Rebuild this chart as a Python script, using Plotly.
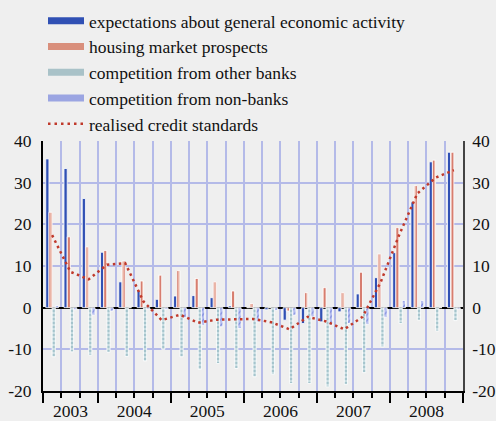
import numpy as np
import plotly.graph_objects as go

quarters = ["2003Q2", "2003Q3", "2003Q4",
            "2004Q1", "2004Q2", "2004Q3", "2004Q4",
            "2005Q1", "2005Q2", "2005Q3", "2005Q4",
            "2006Q1", "2006Q2", "2006Q3", "2006Q4",
            "2007Q1", "2007Q2", "2007Q3", "2007Q4",
            "2008Q1", "2008Q2", "2008Q3", "2008Q4"]
years = ["2003", "2004", "2005", "2006", "2007", "2008"]

expectations = [35.7, 33.4, 26.2, 13.3, 6.2, 4.2, 2.0, 2.8, 2.9, 2.4, 0.4, 0.0,
                -0.5, -3.0, -3.8, -3.4, -1.0, 3.3, 7.2, 13.2, 25.4, 35.0, 37.3]
housing = [22.9, 17.0, 14.6, 13.7, 11.2, 6.4, 7.8, 8.9, 7.0, 6.2, 4.0, 1.0,
           0.0, -0.8, 3.6, 4.8, 3.6, 8.5, 12.9, 19.2, 29.3, 35.4, 37.3]
other_banks = [-11.8, -10.6, -11.4, -10.7, -11.7, -12.8, -10.0, -11.8, -14.8, -13.4, -14.6, -16.6,
               -16.0, -18.2, -18.2, -19.0, -18.4, -15.6, -9.4, -3.8, -3.0, -5.6, -3.1]
non_banks = [0.5, -0.5, -1.8, -0.8, 0.0, -0.3, -0.4, -2.4, -4.2, -4.6, -5.0, -3.4,
             -0.6, -1.8, -2.2, -4.2, -3.8, -4.0, -2.3, 1.7, 1.7, 0.0, -0.3]
credit_standards = [17.4, 8.6, 6.8, 10.3, 10.7, 1.5, -3.0, -1.7, -3.6, -2.9, -2.8, -2.7,
                    -3.5, -5.2, -2.2, -3.3, -5.2, -2.2, 6.2, 17.4, 27.4, 31.2, 33.0]
y_ticks = [-20, -10, 0, 10, 20, 30, 40]
y_tick_labels = ["-20", "-10", "0", "10", "20", "30", "40"]

n = len(quarters)
x = np.arange(n) + 0.5
q_year = [q[:4] for q in quarters]
year_centers = [np.mean([i for i, y in enumerate(q_year) if y == yr]) + 0.5 for yr in years]
year_bounds = [min(i for i, y in enumerate(q_year) if y == yr) for yr in years] + [n]
all_bounds = list(range(n + 1))

FONT = "Liberation Serif"
BG = "#efefef"
GRID = "#b4bae8"
BLUE = "#3050b4"
RED = "#c0392b"
TXT = "#111111"
TICK_SIZE = 17.5

fig = go.Figure()

fig.add_trace(go.Bar(x=x, y=expectations, name="expectations about general economic activity",
                     marker=dict(color=BLUE, line=dict(color="white", width=0.8)),
                     showlegend=False))
fig.add_trace(go.Bar(x=x, y=housing, name="housing market prospects",
                     marker=dict(color="#e6ab9c",
                                 pattern=dict(shape="|", fgcolor=RED, bgcolor="#eab4a6", size=4, solidity=0.45),
                                 line=dict(color="white", width=0.8)),
                     showlegend=False))
fig.add_trace(go.Bar(x=x, y=other_banks, name="competition from other banks",
                     marker=dict(color="#c9dde2",
                                 pattern=dict(shape="-", fgcolor="#4f8c98", bgcolor="#c9dde2", size=4, solidity=0.3),
                                 line=dict(color="white", width=0.8)),
                     showlegend=False))
fig.add_trace(go.Bar(x=x, y=non_banks, name="competition from non-banks",
                     marker=dict(color="#b8c0f0",
                                 pattern=dict(shape="/", fgcolor="#4455cc", bgcolor="#b8c0f0", size=4, solidity=0.3),
                                 line=dict(color="white", width=0.8)),
                     showlegend=False))
fig.add_trace(go.Scatter(x=x, y=credit_standards, mode="lines", name="realised credit standards",
                         line=dict(color=RED, width=2.5, dash="2.5px,3.5px"), showlegend=False))

# legend entries
legend_items = [
    ("expectations about general economic activity", BLUE),
    ("housing market prospects", "#d98f7c"),
    ("competition from other banks", "#a9c2c8"),
    ("competition from non-banks", "#9ba5e2"),
]
for name, col in legend_items:
    fig.add_trace(go.Scatter(x=[None], y=[None], mode="lines", name=name,
                             line=dict(color=col, width=7)))
fig.add_trace(go.Scatter(x=[None], y=[None], mode="lines", name="realised credit standards",
                         line=dict(color=RED, width=2.5, dash="2.5px,4px")))

# dummy for secondary axes
fig.add_trace(go.Scatter(x=[None], y=[None], xaxis="x2", yaxis="y2", showlegend=False, hoverinfo="skip"))

fig.update_layout(
    width=496, height=421, autosize=False,
    margin=dict(l=43, r=33, t=141, b=30, pad=0, autoexpand=False),
    paper_bgcolor=BG, plot_bgcolor=BG,
    font=dict(family=FONT, size=TICK_SIZE, color=TXT),
    barmode="group", bargap=0.3, bargroupgap=0,
    showlegend=True,
    legend=dict(xref="container", yref="container", x=43 / 496, y=0.993, xanchor="left", yanchor="top",
                bgcolor="rgba(0,0,0,0)", font=dict(family=FONT, size=17.5, color=TXT),
                itemwidth=36, tracegroupgap=0),
    xaxis=dict(range=[0, n], tickmode="array", tickvals=year_bounds, ticks="outside", ticklen=10,
               tickcolor="black", tickwidth=1.5, showticklabels=False,
               showgrid=True, gridcolor=GRID, gridwidth=1.5,
               showline=True, linecolor="black", linewidth=1.5, zeroline=False,
               minor=dict(tickmode="array", tickvals=all_bounds, ticks="outside", ticklen=5,
                          tickcolor="black", tickwidth=1.5, showgrid=True, gridcolor=GRID, gridwidth=1.5)),
    xaxis2=dict(overlaying="x", anchor="y", side="bottom", range=[0, n], tickmode="array",
                tickvals=year_centers, ticktext=years, ticks="outside", ticklen=4,
                tickcolor="rgba(0,0,0,0)", showgrid=False, showline=False, zeroline=False,
                tickfont=dict(family=FONT, size=TICK_SIZE, color=TXT)),
    yaxis=dict(range=[-20, 40], tickmode="array", tickvals=y_ticks, ticktext=y_tick_labels,
               ticks="outside", ticklen=6,
               tickcolor="rgba(0,0,0,0)", showgrid=True, gridcolor=GRID, gridwidth=1.5,
               showline=True, linecolor="black", linewidth=2,
               zeroline=True, zerolinecolor="black", zerolinewidth=1.5,
               tickfont=dict(family=FONT, size=TICK_SIZE, color=TXT)),
    yaxis2=dict(overlaying="y", anchor="x", side="right", range=[-20, 40], tickmode="array",
                tickvals=y_ticks, ticktext=y_tick_labels, ticks="outside", ticklen=4,
                tickcolor="rgba(0,0,0,0)",
                showgrid=False, zeroline=False, showline=True, linecolor="#444", linewidth=1.5,
                tickfont=dict(family=FONT, size=TICK_SIZE, color=TXT)),
)

fig.write_html("out.html", config={"displayModeBar": False},
               post_script="document.body.style.margin='0';document.body.style.background='#efefef';")
